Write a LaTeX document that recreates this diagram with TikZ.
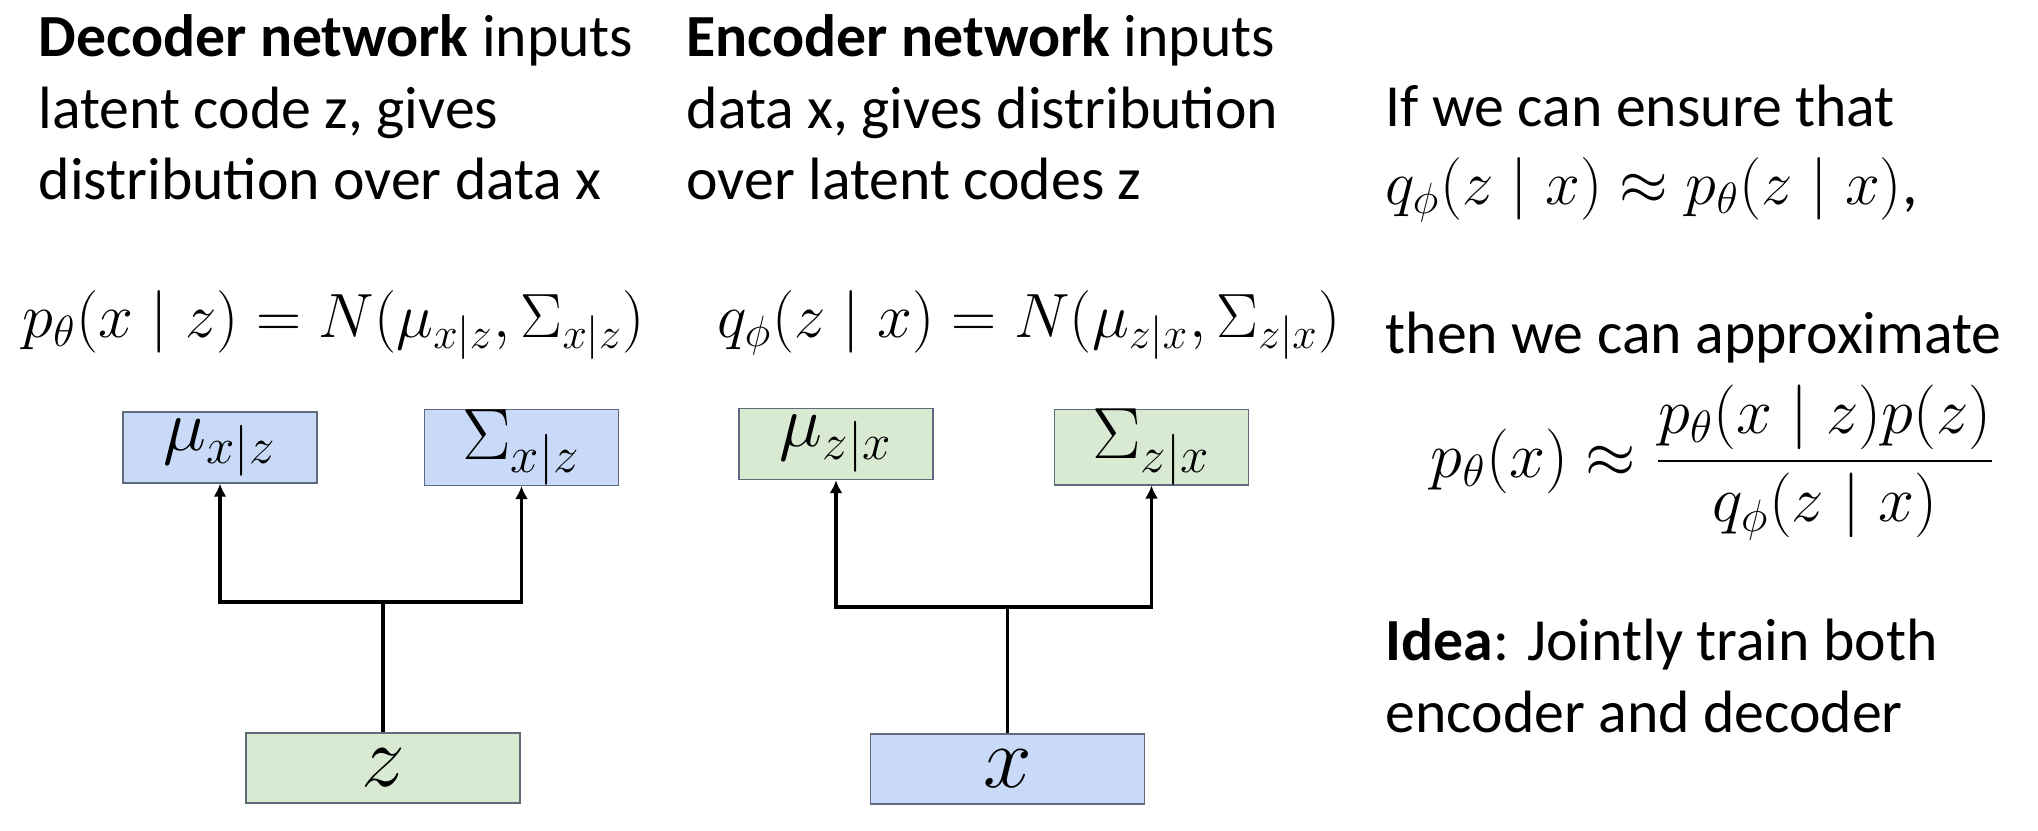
\RequirePackage{fix-cm}
\documentclass[tikz,border=0pt]{standalone}
\usepackage{fontspec}
\setmainfont{Carlito}
\usetikzlibrary{arrows.meta}
\definecolor{boxblue}{HTML}{C9DAF8}
\definecolor{boxgreen}{HTML}{D9EAD3}
\definecolor{boxline}{HTML}{5F6B7A}
\begin{document}
\begin{tikzpicture}[
    txt/.style={anchor=base west, inner sep=0, font=\fontsize{17}{21}\selectfont},
    mth/.style={anchor=base west, inner sep=0, font=\fontsize{17.8}{22}\selectfont},
    box/.style={draw=boxline, line width=0.4pt, minimum width=1.94cm, minimum height=0.71cm, inner sep=0, font=\fontsize{20.7}{24}\selectfont},
    inbox/.style={box, minimum width=2.74cm, minimum height=0.70cm, font=\fontsize{24.88}{28}\selectfont},
    arr/.style={line width=0.9pt, -{Latex[length=1.3mm,width=1.3mm]}},
    wire/.style={line width=0.9pt}
  ]
  \useasboundingbox (0,0) rectangle (20.38,8.30);
  % decoder text
  \node[txt] (dec1) at (0.38,7.74) {\textbf{Decoder network} inputs};
  \node[txt] (dec2) at (0.38,7.02) {latent code z, gives};
  \node[txt] (dec3) at (0.38,6.31) {distribution over data x};
  \node[mth] (deceq) at (0.22,4.93) {$p_\theta(x\mid z)=N(\mu_{x|z},\Sigma_{x|z})$};
  % encoder text
  \node[txt] (enc1) at (6.86,7.74) {\textbf{Encoder network} inputs};
  \node[txt] (enc2) at (6.86,7.02) {data x, gives distribution};
  \node[txt] (enc3) at (6.86,6.31) {over latent codes z};
  \node[mth] (enceq) at (7.17,4.93) {$q_\phi(z\mid x)=N(\mu_{z|x},\Sigma_{z|x})$};
  % right column
  \node[txt] (if1) at (13.85,7.04) {If we can ensure that};
  \node[mth] (if2) at (13.85,6.26) {$q_\phi(z\mid x)\approx p_\theta(z\mid x)$,};
  \node[txt] (then1) at (13.85,4.77) {then we can approximate};
  \node[mth, font=\fontsize{18.4}{22}\selectfont] (approx) at (14.30,3.53) {$\displaystyle p_\theta(x)\approx\frac{p_\theta(x\mid z)p(z)}{q_\phi(z\mid x)}$};
  \node[txt] (idea1) at (13.85,1.70) {\textbf{Idea}: Jointly train both};
  \node[txt] (idea2) at (13.85,0.98) {encoder and decoder};
  % decoder network
  \node[box, fill=boxblue] (muxz) at (2.20,3.825) {$\mu_{x|z}$};
  \node[box, fill=boxblue] (sigxz) at (5.215,3.825) {$\Sigma_{x|z}$};
  \node[inbox, fill=boxgreen] (zin) at (3.83,0.62) {$z$};
  \coordinate (djoin) at (3.83,2.28);
  \draw[wire] (zin) -- (djoin);
  \draw[arr] (djoin) -| (muxz);
  \draw[arr] (djoin) -| (sigxz);
  % encoder network
  \node[box, fill=boxgreen] (muzx) at (8.36,3.86) {$\mu_{z|x}$};
  \node[box, fill=boxgreen] (sigzx) at (11.515,3.83) {$\Sigma_{z|x}$};
  \node[inbox, fill=boxblue] (xin) at (10.075,0.61) {$x$};
  \coordinate (ejoin) at (10.075,2.23);
  \draw[wire] (xin) -- (ejoin);
  \draw[arr] (ejoin) -| (muzx);
  \draw[arr] (ejoin) -| (sigzx);
\end{tikzpicture}
\end{document}
